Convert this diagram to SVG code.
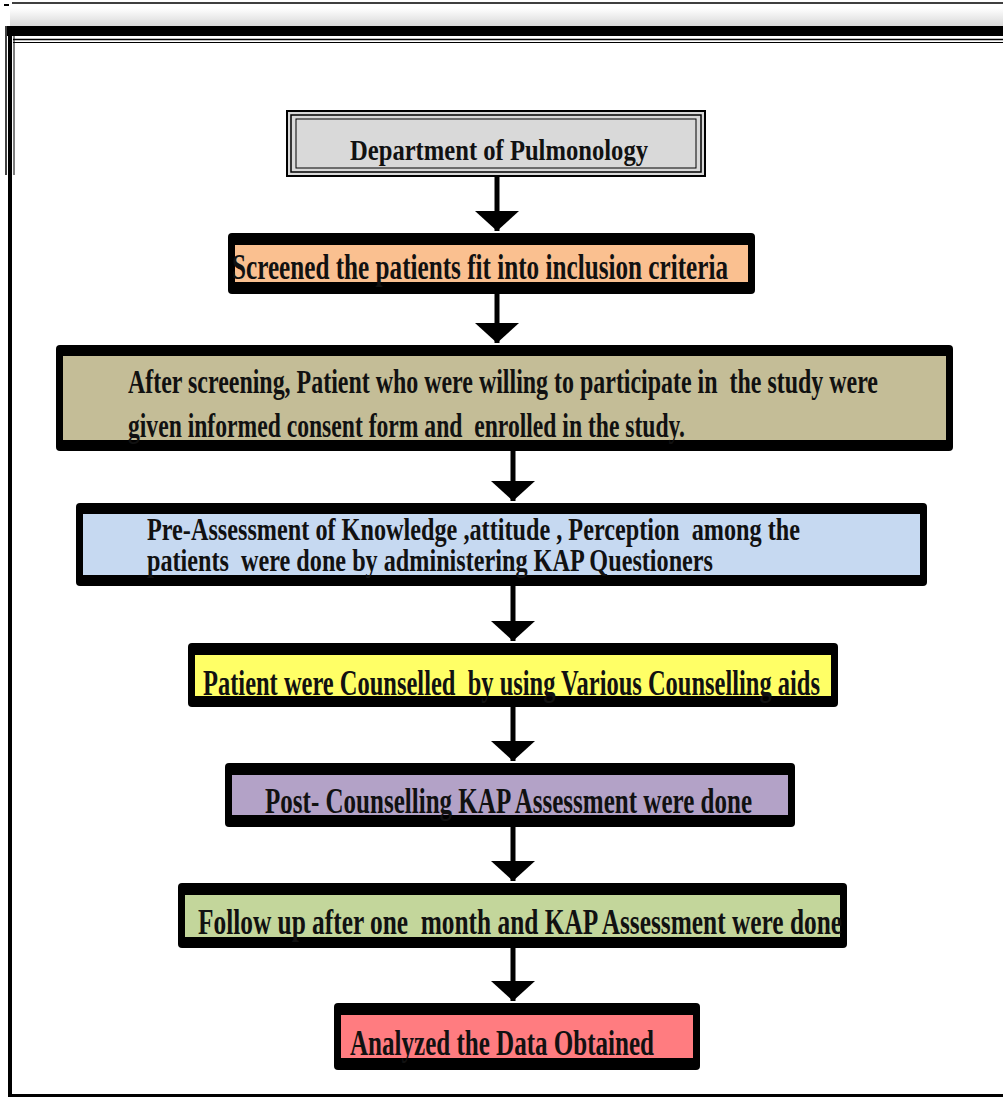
<svg xmlns="http://www.w3.org/2000/svg" width="1003" height="1099" viewBox="0 0 1003 1099">
<defs>
<linearGradient id="shade" x1="0" y1="0" x2="0" y2="1">
<stop offset="0" stop-color="#ffffff"/>
<stop offset="1" stop-color="#d6d6d6"/>
</linearGradient>
<marker id="ah" viewBox="0 0 20 44" refX="20" refY="22" markerWidth="20" markerHeight="44" markerUnits="userSpaceOnUse" orient="auto">
<path d="M0,0 L20,22 L0,44 Z" fill="#000"/>
</marker>
</defs>
<style>
.box{fill:#000}
.t{font-family:"Liberation Serif","Times New Roman",serif;font-weight:bold;fill:#111;white-space:pre}
.conn line{stroke:#000;stroke-width:5;marker-end:url(#ah)}
</style>
<rect width="1003" height="1099" fill="#fff"/>
<g id="frame">
<line x1="12" y1="3" x2="1003" y2="3" stroke="#000" stroke-width="1.5"/>
<rect x="4" y="4" width="5" height="2" fill="#000"/>
<rect x="10" y="8" width="993" height="19" fill="url(#shade)"/>
<rect x="7" y="26" width="996" height="10" fill="#000"/>
<line x1="13" y1="39.5" x2="1003" y2="39.5" stroke="#000" stroke-width="1.5"/>
<line x1="13" y1="42.5" x2="1003" y2="42.5" stroke="#000" stroke-width="1"/>
<line x1="6" y1="26" x2="6" y2="175" stroke="#000" stroke-width="1.5"/>
<line x1="10" y1="26" x2="10" y2="1097" stroke="#000" stroke-width="4"/>
<line x1="14" y1="36" x2="14" y2="175" stroke="#000" stroke-width="1"/>
<line x1="8" y1="1095.5" x2="1003" y2="1095.5" stroke="#000" stroke-width="3"/>
</g>
<g class="conn" id="connectors">
<line x1="497" y1="176" x2="497" y2="231"/>
<line x1="497" y1="294" x2="497" y2="343"/>
<line x1="513" y1="451" x2="513" y2="501"/>
<line x1="513" y1="586" x2="513" y2="641"/>
<line x1="513" y1="707" x2="513" y2="761"/>
<line x1="513" y1="827" x2="513" y2="881"/>
<line x1="513" y1="948" x2="513" y2="1001"/>
</g>
<g id="n0">
<rect x="287" y="111" width="418" height="65" fill="#d9d9d9" stroke="#000" stroke-width="2"/>
<rect x="291" y="115" width="410" height="57" fill="none" stroke="#000" stroke-width="1.5"/>
<rect x="296" y="119" width="400" height="49" fill="none" stroke="#000" stroke-width="1"/>
<text class="t" x="350" y="160" font-size="30" textLength="298" lengthAdjust="spacingAndGlyphs" fill="#333">Department of Pulmonology</text>
</g>
<g id="n1">
<rect class="box" x="228" y="233" width="527" height="61" rx="4"/>
<rect x="235" y="245" width="513" height="37" fill="#fac090"/>
<text class="t" x="232" y="279" font-size="36" textLength="496" lengthAdjust="spacingAndGlyphs">Screened the patients fit into inclusion criteria</text>
</g>
<g id="n2">
<rect class="box" x="56" y="345" width="897" height="106" rx="4"/>
<rect x="63" y="356" width="883" height="84" fill="#c4bd97"/>
<text class="t" x="128" y="393" font-size="33" textLength="750" lengthAdjust="spacingAndGlyphs">After screening, Patient who were willing to participate in  the study were</text>
<text class="t" x="128" y="437" font-size="33" textLength="557" lengthAdjust="spacingAndGlyphs">given informed consent form and  enrolled in the study.</text>
</g>
<g id="n3">
<rect class="box" x="76" y="503" width="851" height="83" rx="4"/>
<rect x="83" y="514" width="837" height="61" fill="#c6d9f1"/>
<text class="t" x="147" y="540" font-size="32" textLength="653" lengthAdjust="spacingAndGlyphs">Pre-Assessment of Knowledge ,attitude , Perception  among the</text>
<text class="t" x="147" y="571" font-size="32" textLength="566" lengthAdjust="spacingAndGlyphs">patients  were done by administering KAP Questioners</text>
</g>
<g id="n4">
<rect class="box" x="188" y="643" width="650" height="64" rx="4"/>
<rect x="195" y="655" width="636" height="41" fill="#ffff66"/>
<text class="t" x="203" y="695" font-size="35" textLength="617" lengthAdjust="spacingAndGlyphs">Patient were Counselled  by using Various Counselling aids</text>
</g>
<g id="n5">
<rect class="box" x="225" y="763" width="570" height="64" rx="4"/>
<rect x="232" y="775" width="556" height="40" fill="#b3a2c7"/>
<text class="t" x="265" y="813" font-size="35" textLength="487" lengthAdjust="spacingAndGlyphs">Post- Counselling KAP Assessment were done</text>
</g>
<g id="n6">
<rect class="box" x="178" y="883" width="669" height="65" rx="4"/>
<rect x="185" y="895" width="655" height="42" fill="#c3d69b"/>
<text class="t" x="198" y="934" font-size="35" textLength="644" lengthAdjust="spacingAndGlyphs">Follow up after one  month and KAP Assessment were done</text>
</g>
<g id="n7">
<rect class="box" x="334" y="1003" width="366" height="67" rx="4"/>
<rect x="341" y="1015" width="352" height="43" fill="#ff7c80"/>
<text class="t" x="350" y="1055" font-size="35" textLength="304" lengthAdjust="spacingAndGlyphs">Analyzed the Data Obtained</text>
</g>
</svg>
